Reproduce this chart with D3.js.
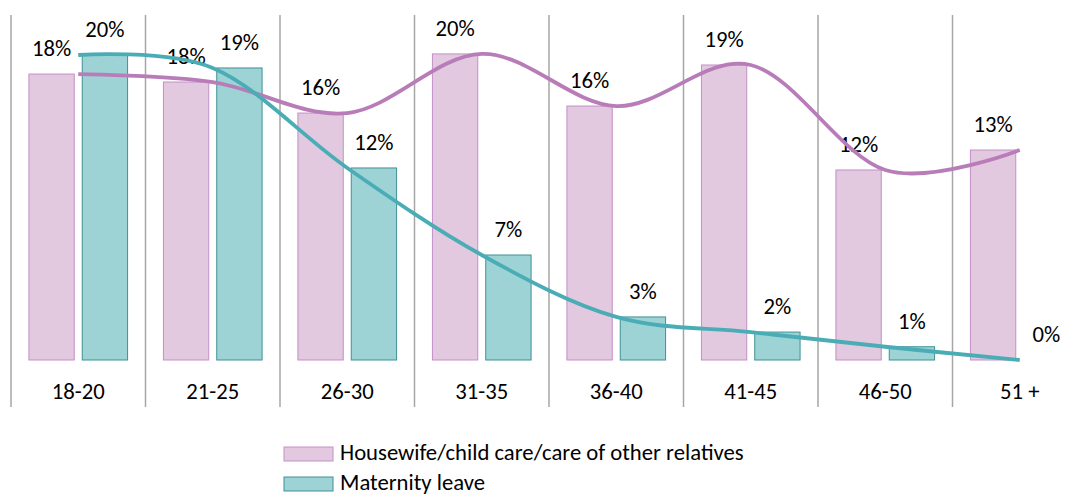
<html>
<head>
    <meta charset="UTF-8">
    <title>Housewife / maternity leave by age</title>
    <style>
        body {
            margin: 0;
            background: #fff;
        }

        text {
            font-family: Carlito, Lato, sans-serif;
            fill: #000;
        }

        .sep {
            stroke: #a6a6a6;
            stroke-width: 1.5px;
        }

        .bar.home {
            fill: #e2c9e0;
            stroke: #c38fc6;
        }

        .bar.leave {
            fill: #9ed3d6;
            stroke: #3f9096;
        }

        .line {
            fill: none;
            stroke-width: 3.8px;
        }

        .line.home {
            stroke: #b87db8;
        }

        .line.leave {
            stroke: #4aadb5;
        }
    </style>
</head>
<body>
<div id="chart"></div>
<script src="https://d3js.org/d3.v7.min.js"></script>
<script>

    var ageGroups = ["18-20", "21-25", "26-30", "31-35", "36-40", "41-45", "46-50", "51 +"];
    var seriesKeys = ["home", "leave"];
    var seriesNames = ["Housewife/child care/care of other relatives", "Maternity leave"];
    // shares per age group
    var housewife = [0.1833, 0.1782, 0.1583, 0.1962, 0.1628, 0.1891, 0.1218, 0.1346];
    var maternity = [0.1955, 0.1872, 0.1231, 0.0673, 0.0276, 0.0179, 0.0085, 0.0];

    var width = 1073,
        height = 495,
        fontSize = 22.7;

    var svg = d3.select("#chart").append("svg")
        .attr("width", width)
        .attr("height", height);

    var x0 = d3.scaleBand()
        .domain(ageGroups)
        .range([11, 1087]);

    var x1 = d3.scaleBand()
        .domain(seriesKeys)
        .range([0, x0.bandwidth()])
        .paddingInner(0.15)
        .paddingOuter(0.336);

    var y = d3.scaleLinear()
        .domain([0, 0.2])
        .range([360, 48]);

    var pct = d3.format(".0%");

    var rows = ageGroups.map(function (g, i) {
        return {group: g, home: housewife[i], leave: maternity[i]};
    });

    // category separators
    svg.selectAll(".sep")
        .data(ageGroups).enter()
        .append("line")
        .attr("class", "sep")
        .attr("x1", function (d) { return x0(d); })
        .attr("x2", function (d) { return x0(d); })
        .attr("y1", 15)
        .attr("y2", 407);

    var groups = svg.selectAll(".group")
        .data(rows).enter()
        .append("g")
        .attr("class", "group")
        .attr("transform", function (d) {
            return "translate(" + x0(d.group) + ",0)";
        });

    groups.selectAll("rect")
        .data(function (d) {
            return seriesKeys.map(function (k) { return {key: k, value: d[k]}; });
        }).enter()
        .append("rect")
        .attr("class", function (d) { return "bar " + d.key; })
        .attr("x", function (d) { return x1(d.key); })
        .attr("y", function (d) { return y(d.value); })
        .attr("width", x1.bandwidth())
        .attr("height", function (d) { return y(0) - y(d.value); });

    // smoothed lines through the group centres
    var line = d3.line()
        .x(function (d) { return x0(d.group) + x0.bandwidth() / 2; })
        .curve(d3.curveCardinal.tension(0));

    seriesKeys.forEach(function (k) {
        svg.append("path")
            .datum(rows)
            .attr("class", "line " + k)
            .attr("d", line.y(function (d) { return y(d[k]); }));
    });

    groups.selectAll(".lbl")
        .data(function (d) {
            return seriesKeys.map(function (k) { return {key: k, value: d[k]}; });
        }).enter()
        .append("text")
        .attr("class", "lbl")
        .attr("x", function (d) { return x1(d.key) + x1.bandwidth() / 2; })
        .attr("y", function (d) { return y(d.value) - 18; })
        .attr("text-anchor", "middle")
        .style("font-size", fontSize + "px")
        .text(function (d) { return pct(d.value); });

    groups.append("text")
        .attr("x", x0.bandwidth() / 2)
        .attr("y", 399)
        .attr("text-anchor", "middle")
        .style("font-size", fontSize + "px")
        .text(function (d) { return d.group; });

    var legend = svg.selectAll(".legend")
        .data(seriesKeys).enter()
        .append("g")
        .attr("class", "legend")
        .attr("transform", function (d, i) {
            return "translate(284," + (447 + i * 30) + ")";
        });

    legend.append("rect")
        .attr("class", function (d) { return "bar " + d; })
        .attr("width", 49)
        .attr("height", 14);

    legend.append("text")
        .attr("x", 56)
        .attr("y", 13)
        .style("font-size", fontSize + "px")
        .text(function (d, i) { return seriesNames[i]; });

</script>
</body>
</html>
